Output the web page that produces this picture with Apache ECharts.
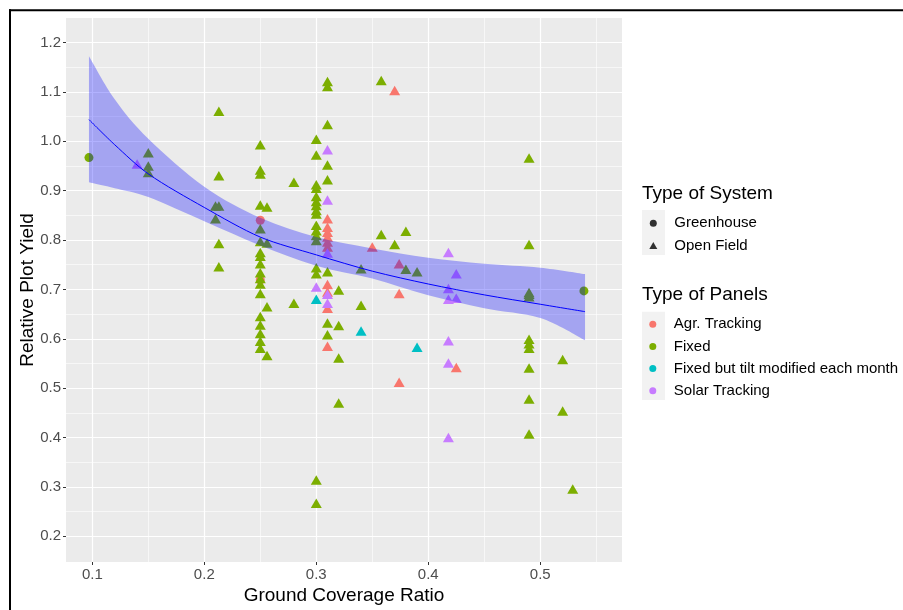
<!DOCTYPE html>
<html>
<head>
<meta charset="utf-8">
<script src="https://cdn.jsdelivr.net/npm/echarts@6.0.0/dist/echarts.min.js"></script>
<style>
  html, body { margin: 0; padding: 0; background: #fff; }
  #main { width: 903px; height: 610px; }
</style>
</head>
<body>
<div id="main"></div>
<script>
// axis breaks
var xTicks = [0.1, 0.2, 0.3, 0.4, 0.5];
var xMinor = [0.15, 0.25, 0.35, 0.45, 0.55];
var yTicks = [0.2, 0.3, 0.4, 0.5, 0.6, 0.7, 0.8, 0.9, 1.0, 1.1, 1.2];
var yMinor = [0.25, 0.35, 0.45, 0.55, 0.65, 0.75, 0.85, 0.95, 1.05, 1.15];

// points: [ground coverage ratio, relative yield, system]  G = Greenhouse, O = Open Field
var agrTracking = [
    [0.25, 0.840, 'G'], [0.25, 0.719, 'G'],
    [0.370, 1.103, 'O'], [0.310, 0.843, 'O'], [0.310, 0.826, 'O'], [0.310, 0.816, 'O'],
    [0.310, 0.806, 'O'], [0.310, 0.796, 'O'], [0.310, 0.786, 'O'], [0.350, 0.786, 'O'],
    [0.374, 0.752, 'O'], [0.374, 0.692, 'O'], [0.310, 0.710, 'O'], [0.310, 0.695, 'O'],
    [0.310, 0.662, 'O'], [0.310, 0.585, 'O'], [0.425, 0.542, 'O'], [0.374, 0.512, 'O']
];
var fixed = [
    [0.097, 0.967, 'G'], [0.539, 0.697, 'G'],
    [0.150, 0.977, 'O'], [0.150, 0.950, 'O'], [0.150, 0.937, 'O'],
    [0.213, 1.061, 'O'], [0.213, 0.930, 'O'], [0.213, 0.869, 'O'], [0.210, 0.869, 'O'],
    [0.210, 0.843, 'O'], [0.213, 0.793, 'O'], [0.213, 0.746, 'O'],
    [0.250, 0.993, 'O'], [0.250, 0.942, 'O'], [0.250, 0.934, 'O'], [0.250, 0.871, 'O'],
    [0.250, 0.823, 'O'], [0.250, 0.797, 'O'], [0.250, 0.775, 'O'], [0.250, 0.767, 'O'],
    [0.250, 0.752, 'O'], [0.250, 0.734, 'O'], [0.250, 0.722, 'O'], [0.250, 0.711, 'O'],
    [0.250, 0.692, 'O'], [0.250, 0.645, 'O'], [0.250, 0.628, 'O'], [0.250, 0.611, 'O'],
    [0.250, 0.595, 'O'], [0.250, 0.581, 'O'],
    [0.256, 0.867, 'O'], [0.256, 0.794, 'O'], [0.256, 0.665, 'O'], [0.256, 0.566, 'O'],
    [0.280, 0.917, 'O'], [0.280, 0.672, 'O'],
    [0.300, 1.004, 'O'], [0.300, 0.972, 'O'], [0.300, 0.912, 'O'], [0.300, 0.905, 'O'],
    [0.300, 0.888, 'O'], [0.300, 0.878, 'O'], [0.300, 0.870, 'O'], [0.300, 0.860, 'O'],
    [0.300, 0.853, 'O'], [0.300, 0.830, 'O'], [0.300, 0.819, 'O'], [0.300, 0.809, 'O'],
    [0.300, 0.799, 'O'], [0.300, 0.744, 'O'], [0.300, 0.732, 'O'], [0.300, 0.314, 'O'],
    [0.300, 0.267, 'O'],
    [0.310, 1.121, 'O'], [0.310, 1.111, 'O'], [0.310, 1.034, 'O'], [0.310, 0.952, 'O'],
    [0.310, 0.922, 'O'], [0.310, 0.736, 'O'], [0.310, 0.632, 'O'], [0.310, 0.608, 'O'],
    [0.320, 0.699, 'O'], [0.320, 0.627, 'O'], [0.320, 0.561, 'O'], [0.320, 0.470, 'O'],
    [0.340, 0.742, 'O'], [0.340, 0.668, 'O'],
    [0.358, 1.123, 'O'], [0.358, 0.811, 'O'], [0.370, 0.791, 'O'],
    [0.380, 0.818, 'O'], [0.380, 0.741, 'O'], [0.390, 0.736, 'O'],
    [0.490, 0.966, 'O'], [0.490, 0.791, 'O'], [0.490, 0.694, 'O'], [0.490, 0.690, 'O'],
    [0.490, 0.685, 'O'], [0.490, 0.599, 'O'], [0.490, 0.590, 'O'], [0.490, 0.581, 'O'],
    [0.490, 0.541, 'O'], [0.490, 0.478, 'O'], [0.490, 0.407, 'O'],
    [0.520, 0.558, 'O'], [0.520, 0.454, 'O'], [0.529, 0.296, 'O']
];
var fixedTilt = [
    [0.300, 0.680, 'O'], [0.340, 0.616, 'O'], [0.390, 0.583, 'O']
];
var solarTracking = [
    [0.140, 0.954, 'O'],
    [0.310, 0.983, 'O'], [0.310, 0.881, 'O'], [0.310, 0.774, 'O'], [0.300, 0.705, 'O'],
    [0.310, 0.690, 'O'], [0.310, 0.672, 'O'],
    [0.418, 0.775, 'O'], [0.425, 0.732, 'O'], [0.418, 0.702, 'O'], [0.418, 0.680, 'O'],
    [0.425, 0.682, 'O'], [0.418, 0.596, 'O'], [0.418, 0.551, 'O'], [0.418, 0.400, 'O']
];

// fitted curve and its confidence band
var fitX = [0.097, 0.12, 0.15, 0.2, 0.25, 0.3, 0.35, 0.4, 0.45, 0.5, 0.54];
var fitY = [1.044, 0.993, 0.934, 0.866, 0.806, 0.770, 0.737, 0.711, 0.689, 0.670, 0.655];
var fitUpper = [1.172, 1.085, 1.005, 0.908, 0.845, 0.806, 0.783, 0.764, 0.752, 0.744, 0.731];
var fitLower = [0.917, 0.905, 0.887, 0.838, 0.789, 0.748, 0.722, 0.688, 0.662, 0.642, 0.597];

var FONT = 'Liberation Sans, Arial, sans-serif';

function toPoints(pts) {
    return pts.map(function (p) {
        var isGreen = p[2] === 'G';
        return {
            value: [p[0], p[1]],
            symbol: isGreen ? 'circle' : 'triangle',
            symbolSize: isGreen ? 9 : [11, 9.5]
        };
    });
}

function pointSeries(name, color, pts) {
    return {
        name: name,
        type: 'scatter',
        z: 2,
        itemStyle: { color: color, opacity: 1 },
        emphasis: { disabled: true },
        data: toPoints(pts)
    };
}

// smooth curve through pixel points (catmull-rom as bezier segments)
function curveTo(p) {
    var d = '';
    for (var i = 0; i < p.length - 1; i++) {
        var p0 = p[i - 1] || p[i], p1 = p[i], p2 = p[i + 1], p3 = p[i + 2] || p[i + 1];
        var c1x = p1[0] + (p2[0] - p0[0]) / 6, c1y = p1[1] + (p2[1] - p0[1]) / 6;
        var c2x = p2[0] - (p3[0] - p1[0]) / 6, c2y = p2[1] - (p3[1] - p1[1]) / 6;
        d += ' C' + c1x + ' ' + c1y + ' ' + c2x + ' ' + c2y + ' ' + p2[0] + ' ' + p2[1];
    }
    return d;
}

// confidence band: upper edge left->right, lower edge right->left, straight ends
function renderBand(params, api) {
    var up = [], lo = [];
    for (var i = 0; i < fitX.length; i++) {
        up.push(api.coord([fitX[i], fitUpper[i]]));
    }
    for (var j = fitX.length - 1; j >= 0; j--) {
        lo.push(api.coord([fitX[j], fitLower[j]]));
    }
    var d = 'M' + up[0][0] + ' ' + up[0][1] + curveTo(up) +
        ' L' + lo[0][0] + ' ' + lo[0][1] + curveTo(lo) + ' Z';
    return {
        type: 'path',
        shape: { pathData: d },
        style: { fill: 'rgba(0,0,255,0.3)' }
    };
}

var gridLines = [];
xTicks.forEach(function (v) { gridLines.push({ xAxis: v, lineStyle: { width: 1.2 } }); });
yTicks.forEach(function (v) { gridLines.push({ yAxis: v, lineStyle: { width: 1.2 } }); });
xMinor.forEach(function (v) { gridLines.push({ xAxis: v, lineStyle: { width: 0.6 } }); });
yMinor.forEach(function (v) { gridLines.push({ yAxis: v, lineStyle: { width: 0.6 } }); });

var chart = echarts.init(document.getElementById('main'));

var option = {
    animation: false,
    backgroundColor: '#fff',
    textStyle: { fontFamily: FONT },
    title: [
        { text: 'Type of System', left: 642, top: 184, padding: 0,
          textStyle: { fontSize: 19, fontWeight: 'normal', color: '#000', fontFamily: FONT } },
        { text: 'Type of Panels', left: 642, top: 285, padding: 0,
          textStyle: { fontSize: 19, fontWeight: 'normal', color: '#000', fontFamily: FONT } }
    ],
    legend: [
        {
            orient: 'vertical', left: 649.3, top: 215.7, padding: 0,
            itemWidth: 8, itemHeight: 7, itemGap: 7.4, selectedMode: false,
            textStyle: { fontSize: 15, color: '#000', fontFamily: FONT, lineHeight: 15, padding: [0, 0, 0, 12] },
            data: [{ name: 'Greenhouse', icon: 'circle' }, { name: 'Open Field', icon: 'triangle' }]
        },
        {
            orient: 'vertical', left: 649.3, top: 316.7, padding: 0,
            itemWidth: 8, itemHeight: 7, itemGap: 7.2, selectedMode: false,
            textStyle: { fontSize: 15, color: '#000', fontFamily: FONT, lineHeight: 15, padding: [0, 0, 0, 12] },
            data: [
                { name: 'Agr. Tracking', icon: 'circle' },
                { name: 'Fixed', icon: 'circle' },
                { name: 'Fixed but tilt modified each month', icon: 'circle' },
                { name: 'Solar Tracking', icon: 'circle' }
            ]
        }
    ],
    graphic: [
        { type: 'rect', z: 1, shape: { x: 642, y: 210, width: 23, height: 45 }, style: { fill: '#F2F2F2' } },
        { type: 'rect', z: 1, shape: { x: 642, y: 311.7, width: 23, height: 88.3 }, style: { fill: '#F2F2F2' } },
        { type: 'line', z: 1, shape: { x1: 9, y1: 10.3, x2: 903, y2: 10.3 }, style: { stroke: '#000', lineWidth: 2 } },
        { type: 'line', z: 1, shape: { x1: 10, y1: 9.3, x2: 10, y2: 610 }, style: { stroke: '#000', lineWidth: 2 } }
    ],
    grid: {
        left: 66, right: 281, top: 18, bottom: 45,
        show: true, backgroundColor: '#EBEBEB', borderWidth: 0
    },
    xAxis: {
        type: 'value',
        min: 0.0765, max: 0.573,
        name: 'Ground Coverage Ratio',
        nameLocation: 'middle',
        nameGap: 24,
        nameMoveOverlap: false,
        nameTextStyle: { fontSize: 19, color: '#000', fontFamily: FONT },
        axisLine: { show: false },
        axisTick: { show: true, length: 3, lineStyle: { color: '#333', width: 1 }, customValues: xTicks },
        axisLabel: {
            fontSize: 15, color: '#4D4D4D', margin: 5, fontFamily: FONT,
            customValues: xTicks,
            formatter: function (v) { return v.toFixed(1); }
        },
        splitLine: { show: false }
    },
    yAxis: {
        type: 'value',
        min: 0.148, max: 1.2497,
        name: 'Relative Plot Yield',
        nameLocation: 'middle',
        nameGap: 29,
        nameMoveOverlap: false,
        nameTextStyle: { fontSize: 19, color: '#000', fontFamily: FONT },
        axisLine: { show: false },
        axisTick: { show: true, length: 3, lineStyle: { color: '#333', width: 1 }, customValues: yTicks },
        axisLabel: {
            fontSize: 15, color: '#4D4D4D', margin: 5, fontFamily: FONT,
            customValues: yTicks,
            formatter: function (v) { return v.toFixed(1); }
        },
        splitLine: { show: false }
    },
    series: [
        {
            name: 'grid',
            type: 'line',
            z: 1,
            silent: true,
            data: [],
            markLine: {
                z: 1,
                silent: true,
                symbol: 'none',
                label: { show: false },
                lineStyle: { color: '#FFFFFF', type: 'solid' },
                emphasis: { disabled: true },
                data: gridLines
            }
        },
        { name: 'Greenhouse', type: 'scatter', symbol: 'circle', itemStyle: { color: '#000' }, data: [] },
        { name: 'Open Field', type: 'scatter', symbol: 'triangle', itemStyle: { color: '#000' }, data: [] },
        pointSeries('Agr. Tracking', '#F8766D', agrTracking),
        pointSeries('Fixed', '#7CAE00', fixed),
        pointSeries('Fixed but tilt modified each month', '#00BFC4', fixedTilt),
        pointSeries('Solar Tracking', '#C77CFF', solarTracking),
        {
            name: 'band',
            type: 'custom',
            z: 3,
            silent: true,
            renderItem: renderBand,
            encode: { x: 0, y: 1 },
            data: [[fitX[0], fitLower[0]]]
        },
        {
            name: 'fit',
            type: 'line',
            z: 4,
            smooth: 0.3,
            symbol: 'none',
            silent: true,
            lineStyle: { color: '#0000FF', width: 1 },
            data: fitX.map(function (x, i) { return [x, fitY[i]]; })
        }
    ]
};

chart.setOption(option);
</script>
</body>
</html>
